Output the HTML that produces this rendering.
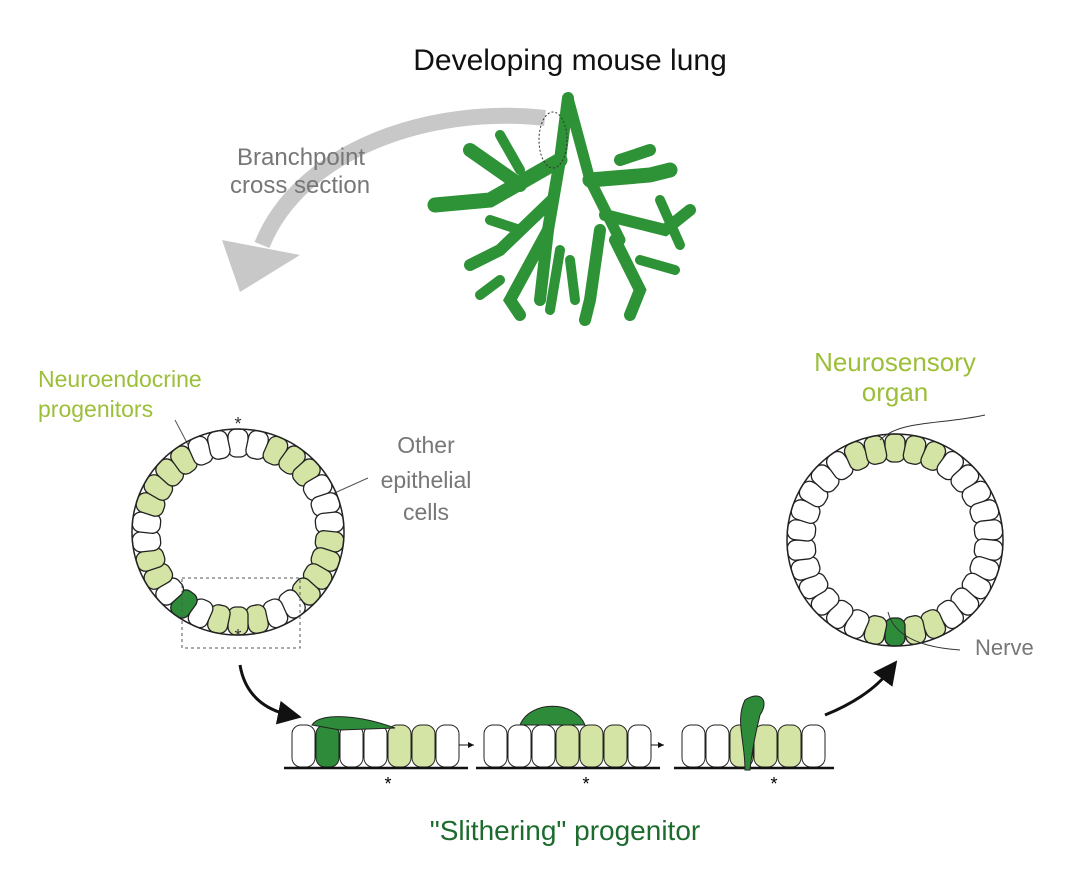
<!DOCTYPE html>
<html><head><meta charset="utf-8"><style>
body{margin:0;background:#fff;}
svg{display:block;font-family:"Liberation Sans",sans-serif;}
</style></head><body>
<svg id="s" width="1086" height="882" viewBox="0 0 1086 882" xmlns="http://www.w3.org/2000/svg">
<defs>
<marker id="ah" markerWidth="8" markerHeight="8" refX="4" refY="4" orient="auto"><path d="M0,0 L8,4 L0,8 z" fill="#111"/></marker>
<marker id="sa" markerWidth="6" markerHeight="6" refX="6" refY="3" orient="auto"><path d="M0,0 L6,3 L0,6 z" fill="#111"/></marker>
</defs>
<text x="570" y="70" font-size="30" text-anchor="middle" fill="#111">Developing mouse lung</text>
<path d="M545,118 C430,105 300,150 262,245" stroke="#c8c8c8" stroke-width="16" fill="none"/>
<path d="M222,240 L300,255 L240,292 z" fill="#c8c8c8"/>
<text x="237" y="165" font-size="24" fill="#777">Branchpoint</text>
<text x="230" y="193" font-size="24" fill="#777">cross section</text>
<g stroke="#2e9236" stroke-linecap="round" fill="none">
<path d="M568,98 L560,160 L548,230 L540,300" stroke-width="12"/>
<path d="M568,98 L590,180 L620,240" stroke-width="11"/>
<path d="M560,160 L490,200 L435,205" stroke-width="15"/>
<path d="M552,200 L500,250 L470,265" stroke-width="12"/>
<path d="M548,230 L510,300 L520,315" stroke-width="12"/>
<path d="M590,180 L650,175 L670,170" stroke-width="15"/>
<path d="M605,215 L665,230 L690,210" stroke-width="12"/>
<path d="M615,240 L640,290 L630,315" stroke-width="12"/>
<path d="M600,230 L590,300 L585,320" stroke-width="12"/>
<path d="M470,150 L520,185" stroke-width="14"/>
<path d="M500,135 L520,170" stroke-width="10"/>
<path d="M620,160 L650,150" stroke-width="12"/>
<path d="M560,250 L550,310" stroke-width="10"/>
<path d="M520,230 L490,220" stroke-width="10"/>
<path d="M640,260 L675,270" stroke-width="10"/>
<path d="M500,280 L480,295" stroke-width="10"/>
<path d="M660,200 L680,245" stroke-width="10"/>
<path d="M570,260 L575,300" stroke-width="10"/>
</g>
<ellipse cx="553" cy="140" rx="14" ry="28" fill="none" stroke="#333" stroke-dasharray="2,2"/>
<text x="38" y="387" font-size="23" fill="#9cbf3a">Neuroendocrine</text>
<text x="38" y="417" font-size="23" fill="#9cbf3a">progenitors</text>
<text x="895" y="371" font-size="26" fill="#9cbf3a" text-anchor="middle">Neurosensory</text>
<text x="895" y="401" font-size="26" fill="#9cbf3a" text-anchor="middle">organ</text>
<text x="426" y="453" font-size="23" fill="#777" text-anchor="middle">Other</text>
<text x="426" y="488" font-size="23" fill="#777" text-anchor="middle">epithelial</text>
<text x="426" y="520" font-size="23" fill="#777" text-anchor="middle">cells</text>
<line x1="175" y1="420" x2="195" y2="458" stroke="#555"/>
<line x1="368" y1="478" x2="330" y2="495" stroke="#555"/>
<g id="ringL"></g><g id="ringR"></g>
<text x="238" y="430" font-size="18" text-anchor="middle" fill="#333">*</text>
<text x="238" y="642" font-size="18" text-anchor="middle" fill="#333">*</text>
<rect x="182" y="578" width="118" height="70" fill="none" stroke="#555" stroke-dasharray="3,3"/>
<path d="M880,440 C900,420 940,425 985,415" stroke="#333" fill="none"/>
<path d="M888,612 C895,640 930,648 960,650" stroke="#333" fill="none"/>
<text x="975" y="655" font-size="22" fill="#777">Nerve</text>
<path d="M240,665 C245,695 265,710 290,715" stroke="#111" stroke-width="3" fill="none" marker-end="url(#ah)"/>
<path d="M825,715 C850,705 875,690 890,670" stroke="#111" stroke-width="3" fill="none" marker-end="url(#ah)"/>
<line x1="448" y1="745" x2="474" y2="745" stroke="#111" marker-end="url(#sa)"/>
<line x1="638" y1="745" x2="664" y2="745" stroke="#111" marker-end="url(#sa)"/>
<g id="strips"></g>
<text x="388" y="790" font-size="18" text-anchor="middle">*</text>
<text x="586" y="790" font-size="18" text-anchor="middle">*</text>
<text x="774" y="790" font-size="18" text-anchor="middle">*</text>
<text x="565" y="840" font-size="28" text-anchor="middle" fill="#1e6b2e">"Slithering" progenitor</text>
</svg>
<script>
var NS="http://www.w3.org/2000/svg";
function ring(g,cx,cy,rx,ry,n,greens,dark){
 for(var i=0;i<n;i++){var a=i/n*360-90;var rad=a*Math.PI/180;
  var x=cx+Math.cos(rad)*(rx-14),y=cy+Math.sin(rad)*(ry-14);
  var r=document.createElementNS(NS,"rect");
  r.setAttribute("x",-14);r.setAttribute("y",-10);r.setAttribute("width",28);r.setAttribute("height",20);
  r.setAttribute("rx",8);r.setAttribute("fill",dark.indexOf(i)>=0?"#2e8b3a":(greens.indexOf(i)>=0?"#d4e4a4":"#fff"));
  r.setAttribute("stroke","#222");r.setAttribute("stroke-width","1.3");
  r.setAttribute("transform","translate("+x+","+y+") rotate("+a+")");g.appendChild(r);}
 var e=document.createElementNS(NS,"ellipse");e.setAttribute("cx",cx);e.setAttribute("cy",cy);e.setAttribute("rx",rx);e.setAttribute("ry",ry);e.setAttribute("fill","none");e.setAttribute("stroke","#222");e.setAttribute("stroke-width","1.5");g.appendChild(e);
}
ring(document.getElementById("ringL"),238,532,106,103,30,[2,3,4,8,9,10,11,14,15,16,20,21,24,25,26,27],[18]);
ring(document.getElementById("ringR"),895,540,108,106,30,[13,14,16,28,29,0,1,2],[15]);
var st=document.getElementById("strips");
function strip(x0,cols){
 for(var i=0;i<cols.length;i++){var r=document.createElementNS(NS,"rect");
  r.setAttribute("x",x0+i*24);r.setAttribute("y",725);r.setAttribute("width",23);r.setAttribute("height",42);r.setAttribute("rx",9);
  r.setAttribute("fill",cols[i]);r.setAttribute("stroke","#222");st.appendChild(r);}
 var l=document.createElementNS(NS,"line");l.setAttribute("x1",x0-8);l.setAttribute("x2",x0+cols.length*24+8);l.setAttribute("y1",768);l.setAttribute("y2",768);l.setAttribute("stroke","#111");l.setAttribute("stroke-width","2.5");st.appendChild(l);
}
var W="#fff",G="#d4e4a4",D="#2e8b3a";
strip(292,[W,D,W,W,G,G,W]);
strip(484,[W,W,W,G,G,G,W]);
strip(682,[W,W,G,G,G,W]);
function p(d,f){var e=document.createElementNS(NS,"path");e.setAttribute("d",d);e.setAttribute("fill",f);e.setAttribute("stroke","#222");st.appendChild(e);}
p("M312,725 C320,712 360,715 395,728 L340,730 Z",D);
p("M520,725 C530,700 575,700 585,725 Z",D);
p("M745,770 C745,740 735,720 745,700 C760,690 770,700 760,715 C755,735 752,750 750,770 Z",D);
</script>
</body></html>
